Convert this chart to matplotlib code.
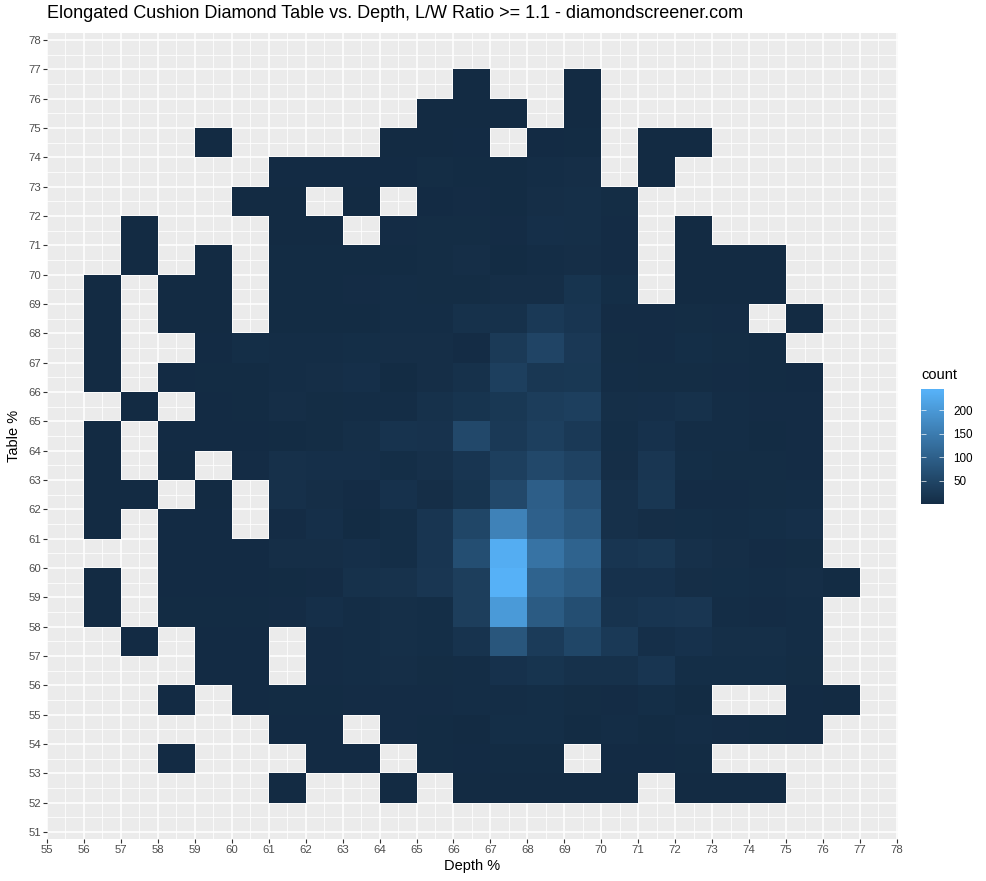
import numpy as np
import matplotlib
matplotlib.use("Agg")
import matplotlib.pyplot as plt
from matplotlib.colors import ListedColormap, Normalize

plt.rcParams['font.family'] = ['Liberation Sans', 'DejaVu Sans']

depth_edges = list(range(55, 78))      # 55 .. 77, columns are 55-56 ... 76-77
table_edges = list(range(52, 78))      # 52 .. 77, rows are 52-53 ... 76-77

# one row per table bin, columns: depth 55,56,...,76
t76 = [0,0,0,0,0,0,0,0,0,0,0,1,0,0,1,0,0,0,0,0,0,0]
t75 = [0,0,0,0,0,0,0,0,0,0,1,1,1,0,1,0,0,0,0,0,0,0]
t74 = [0,0,0,0,1,0,0,0,0,1,1,2,0,2,3,0,1,1,0,0,0,0]
t73 = [0,0,0,0,0,0,2,2,2,2,5,3,3,6,8,0,1,0,0,0,0,0]
t72 = [0,0,0,0,0,1,1,0,1,0,2,4,3,8,9,5,0,0,0,0,0,0]
t71 = [0,0,1,0,0,0,1,1,0,4,5,5,4,10,9,4,0,1,0,0,0,0]
t70 = [0,0,1,0,1,0,3,3,3,3,5,8,3,6,8,4,0,1,1,1,0,0]
t69 = [0,1,0,1,1,0,3,3,4,6,5,5,8,8,20,7,0,1,1,1,0,0]
t68 = [0,1,0,1,1,0,3,3,3,6,6,14,14,30,22,4,4,5,4,0,1,0]
t67 = [0,1,0,0,2,7,6,6,7,8,8,4,32,52,28,5,4,7,5,3,0,0]
t66 = [0,1,0,2,3,3,6,8,10,3,8,14,42,25,27,6,5,5,4,3,2,0]
t65 = [0,0,1,0,2,3,8,5,6,6,14,20,27,38,42,9,10,14,6,4,4,0]
t64 = [0,1,0,2,2,2,3,5,9,18,17,60,30,42,30,7,15,6,6,3,4,0]
t63 = [0,1,0,1,0,4,12,10,10,7,12,22,42,60,48,8,24,7,5,5,4,0]
t62 = [0,1,1,0,1,0,12,8,4,15,8,20,60,102,75,12,25,4,4,5,6,0]
t61 = [0,1,0,2,2,0,4,10,3,7,22,55,165,105,88,12,8,7,6,7,10,0]
t60 = [0,0,0,2,2,2,8,8,10,7,22,70,238,140,110,22,25,12,8,4,5,0]
t59 = [0,1,0,2,2,2,3,4,14,16,24,40,245,110,95,15,15,8,7,6,8,3]
t58 = [0,1,0,3,3,3,4,10,6,9,7,40,205,95,70,18,22,24,6,4,6,0]
t57 = [0,0,2,0,2,2,0,4,6,9,7,18,85,35,55,30,10,15,9,9,6,0]
t56 = [0,0,0,0,2,2,0,4,6,8,5,6,15,20,14,14,22,7,7,7,5,0]
t55 = [0,0,0,2,0,2,3,3,4,4,4,6,6,7,5,4,7,3,0,0,2,1]
t54 = [0,0,0,0,0,0,2,2,0,4,3,1,7,7,3,6,3,6,4,3,2,0]
t53 = [0,0,0,2,0,0,0,2,2,0,3,2,3,3,0,2,2,3,0,0,0,0]
t52 = [0,0,0,0,0,0,1,0,0,1,0,1,1,1,1,1,0,1,1,1,0,0]
count_rows = [t52,t53,t54,t55,t56,t57,t58,t59,t60,t61,t62,t63,t64,t65,t66,t67,t68,t69,t70,t71,t72,t73,t74,t75,t76]

x_ticks = list(range(55, 79))
y_ticks = list(range(51, 79))
legend_ticks = [50, 100, 150, 200]
count_min, count_max = 1, 245


def srgb_to_lab(rgb):
    c = np.array(rgb, float)
    c = np.where(c > 0.04045, ((c + 0.055) / 1.055) ** 2.4, c / 12.92)
    m = np.array([[0.4124564, 0.3575761, 0.1804375],
                  [0.2126729, 0.7151522, 0.0721750],
                  [0.0193339, 0.1191920, 0.9503041]])
    xyz = m @ c / np.array([0.95047, 1.0, 1.08883])
    f = np.where(xyz > 0.008856, np.cbrt(xyz), 7.787 * xyz + 16 / 116)
    return np.array([116 * f[1] - 16, 500 * (f[0] - f[1]), 200 * (f[1] - f[2])])


def lab_to_srgb(lab):
    fy = (lab[0] + 16) / 116
    f = np.array([fy + lab[1] / 500, fy, fy - lab[2] / 200])
    xyz = np.where(f ** 3 > 0.008856, f ** 3, (f - 16 / 116) / 7.787) * np.array([0.95047, 1.0, 1.08883])
    m = np.array([[3.2404542, -1.5371385, -0.4985314],
                  [-0.9692660, 1.8760108, 0.0415560],
                  [0.0556434, -0.2040259, 1.0572252]])
    c = np.clip(m @ xyz, 0, 1)
    return np.where(c > 0.0031308, 1.055 * c ** (1 / 2.4) - 0.055, 12.92 * c)


low = srgb_to_lab(matplotlib.colors.to_rgb('#132B43'))
high = srgb_to_lab(matplotlib.colors.to_rgb('#56B1F7'))
cmap = ListedColormap([lab_to_srgb(low + (high - low) * s) for s in np.linspace(0, 1, 256)])
norm = Normalize(count_min, count_max)

W, H = 987, 881
fig = plt.figure(figsize=(W / 100, H / 100), dpi=100)
L, R, T, B = 47, 898, 33, 839
ax = fig.add_axes([L / W, 1 - B / H, (R - L) / W, (B - T) / H])
ax.set_facecolor('#EBEBEB')

counts = np.ma.masked_equal(np.array(count_rows, float), 0)
mesh = ax.pcolormesh(depth_edges, table_edges, counts, cmap=cmap, norm=norm,
                     linewidth=0, antialiased=False, zorder=3)

ax.set_xlim(55, 78.03)
ax.set_ylim(50.76, 78.24)
ax.set_xticks(x_ticks)
ax.set_yticks(y_ticks)
ax.set_xticks(np.arange(55.5, 78, 1), minor=True)
ax.set_yticks(np.arange(51.5, 78, 1), minor=True)
ax.grid(which='major', color='white', linewidth=1.1, zorder=1)
ax.grid(which='minor', color='white', linewidth=0.55, zorder=1)
ax.set_axisbelow(True)
ax.tick_params(which='major', length=3, width=0.8, color='#333333', labelcolor='#4D4D4D',
               labelsize=8.2, pad=1.5)
ax.tick_params(which='minor', length=0)
for s in ax.spines.values():
    s.set_visible(False)

fig.text(472 / W, 1 - 866 / H, 'Depth %', ha='center', va='center', fontsize=10.5, color='black')
fig.text(14 / W, 1 - 436 / H, 'Table %', ha='center', va='center', rotation=90, fontsize=10.5, color='black')
fig.text(47 / W, 1 - 14 / H, 'Elongated Cushion Diamond Table vs. Depth, L/W Ratio >= 1.1 - diamondscreener.com',
         ha='left', va='center', fontsize=12.95, color='black')

cax = fig.add_axes([921 / W, 1 - 504 / H, 23 / W, 115 / H])
cb = fig.colorbar(mesh, cax=cax, ticks=legend_ticks)
cb.outline.set_visible(False)
cb.solids.set_edgecolor('face')
cax.tick_params(length=0, labelsize=8.4, labelcolor='black', pad=6.5)
tr = cax.get_yaxis_transform()
cax.hlines(legend_ticks, 0, 0.2, colors='white', linewidth=0.6, alpha=0.8, transform=tr)
cax.hlines(legend_ticks, 0.8, 1, colors='white', linewidth=0.6, alpha=0.8, transform=tr)
fig.text(921 / W, 1 - 375 / H, 'count', ha='left', va='center', fontsize=10.5, color='black')

fig.savefig('out.png', dpi=100)
